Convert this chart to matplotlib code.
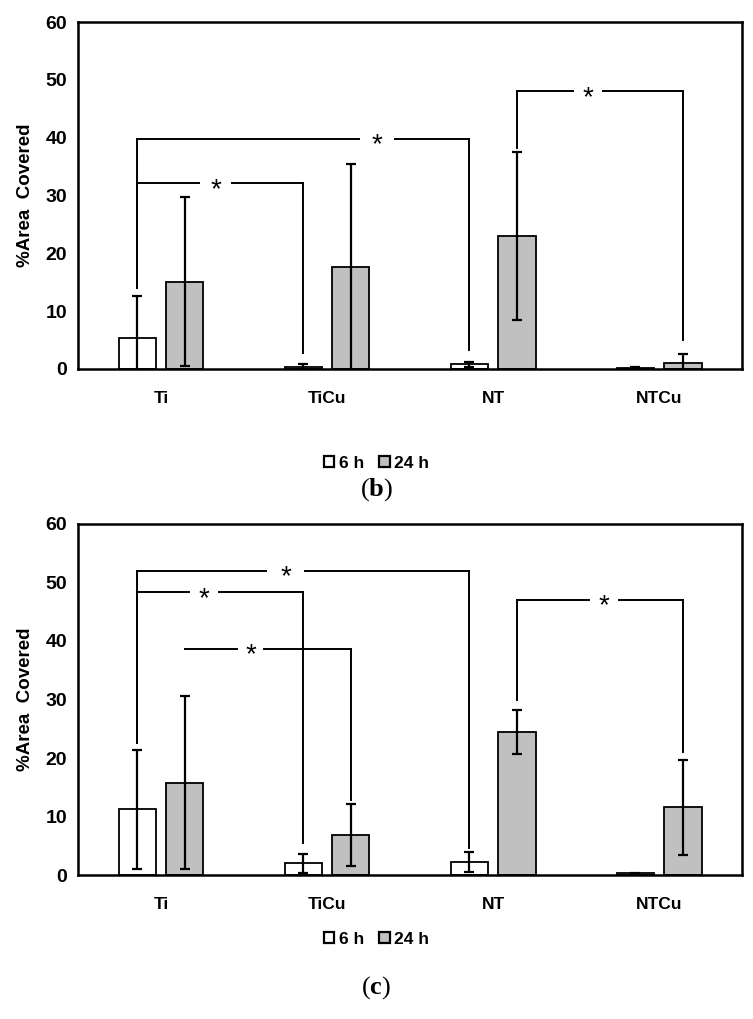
import numpy as np
import matplotlib; matplotlib.use("Agg")
import matplotlib.pyplot as plt
from matplotlib.patches import Patch

plt.rcParams.update({"mathtext.fontset": "custom", "mathtext.rm": "Liberation Serif",
                     "mathtext.bf": "Liberation Serif:bold"})
SANS = ["Liberation Sans Narrow", "Liberation Sans", "DejaVu Sans"]

groups = ["Ti", "TiCu", "NT", "NTCu"]
series = ["6 h", "24 h"]

# panel (b)
b_6h = [5.3, 0.4, 0.8, 0.2]
b_6h_sd = [7.3, 0.4, 0.4, 0.15]
b_24h = [15.1, 17.6, 23.0, 1.1]
b_24h_sd = [14.6, 17.9, 14.5, 1.5]
# brackets: (x_left, x_right, y_bar, leg_left_bottom, leg_right_bottom, star_x, gap_half)
b_brackets = [(-0.143, 1.857, 39.8, 14.0, 3.2, 1.30, 0.11),
              (-0.143, 0.857, 32.1, 14.0, 2.8, 0.33, 0.10),
              (2.143, 3.143, 48.0, 38.2, 5.0, 2.57, 0.09)]

# panel (c)
c_6h = [11.2, 2.0, 2.3, 0.3]
c_6h_sd = [10.2, 1.6, 1.7, 0.1]
c_24h = [15.8, 6.8, 24.4, 11.6]
c_24h_sd = [14.8, 5.3, 3.75, 8.1]
c_brackets = [(-0.143, 1.857, 52.0, 22.6, 4.6, 0.75, 0.12),
              (-0.143, 0.857, 48.3, 22.6, 5.5, 0.26, 0.09),
              (0.143, 1.143, 38.6, None, 12.8, 0.54, 0.08),
              (2.143, 3.143, 47.0, 29.9, 21.0, 2.67, 0.09)]

W = 0.225
OFF = 0.143


def panel(ax, v6, s6, v24, s24, brackets):
    x = np.arange(len(groups))
    ekw = dict(elinewidth=1.6, capthick=1.6, capsize=3.5, ecolor="black")
    ax.bar(x - OFF, v6, W, yerr=s6, color="white", edgecolor="black", lw=1.3, error_kw=ekw, zorder=2)
    ax.bar(x + OFF, v24, W, yerr=s24, color="#c0c0c0", edgecolor="black", lw=1.3, error_kw=ekw, zorder=2)
    for xl, xr, y, ll, lr, sx, g in brackets:
        ax.plot([xl, sx - g], [y, y], color="black", lw=1.4, zorder=3)
        ax.plot([sx + g, xr], [y, y], color="black", lw=1.4, zorder=3)
        if ll is not None:
            ax.plot([xl, xl], [ll, y], color="black", lw=1.4, zorder=3)
        ax.plot([xr, xr], [lr, y], color="black", lw=1.4, zorder=3)
        ax.text(sx, y - 1.1, "*", ha="center", va="center", fontsize=20, family=SANS)
    ax.set_xlim(-0.5, 3.5); ax.set_ylim(0, 60)
    ax.set_yticks(range(0, 61, 10))
    ax.set_yticklabels([str(v) for v in range(0, 61, 10)], family=SANS, fontsize=14, fontweight="bold")
    ax.set_xticks(x)
    ax.set_xticklabels(groups, family=SANS, fontsize=12.5, fontweight="bold")
    ax.tick_params(length=0, pad=8)
    ax.tick_params(axis="x", pad=16)
    for s in ax.spines.values():
        s.set_linewidth(1.8)
    ax.set_ylabel("%Area  Covered", family=SANS, fontsize=13.5, fontweight="bold", labelpad=8)


fig = plt.figure(figsize=(7.53, 10.19), dpi=100)
ax1 = fig.add_axes([0.1036, 0.6379, 0.882, 0.3405])
ax2 = fig.add_axes([0.1036, 0.1413, 0.882, 0.3445])
panel(ax1, b_6h, b_6h_sd, b_24h, b_24h_sd, b_brackets)
panel(ax2, c_6h, c_6h_sd, c_24h, c_24h_sd, c_brackets)

handles = [Patch(facecolor="white", edgecolor="black", lw=1.6),
           Patch(facecolor="#c0c0c0", edgecolor="black", lw=1.6)]
for yl, cap, yc in [(1 - 463 / 1019, "b", 1 - 490 / 1019), (1 - 939 / 1019, "c", 1 - 988 / 1019)]:
    fig.legend(handles, series, loc="center", bbox_to_anchor=(0.5, yl), ncol=2, frameon=False,
               handlelength=0.6, handleheight=0.6, handletextpad=0.25, columnspacing=0.9,
               prop=dict(family=SANS, weight="bold", size=12.5))
    fig.text(0.5, yc, rf"($\mathbf{{{cap}}}$)", ha="center", va="center", fontsize=19,
             family="Liberation Serif")

fig.savefig("out.png")
